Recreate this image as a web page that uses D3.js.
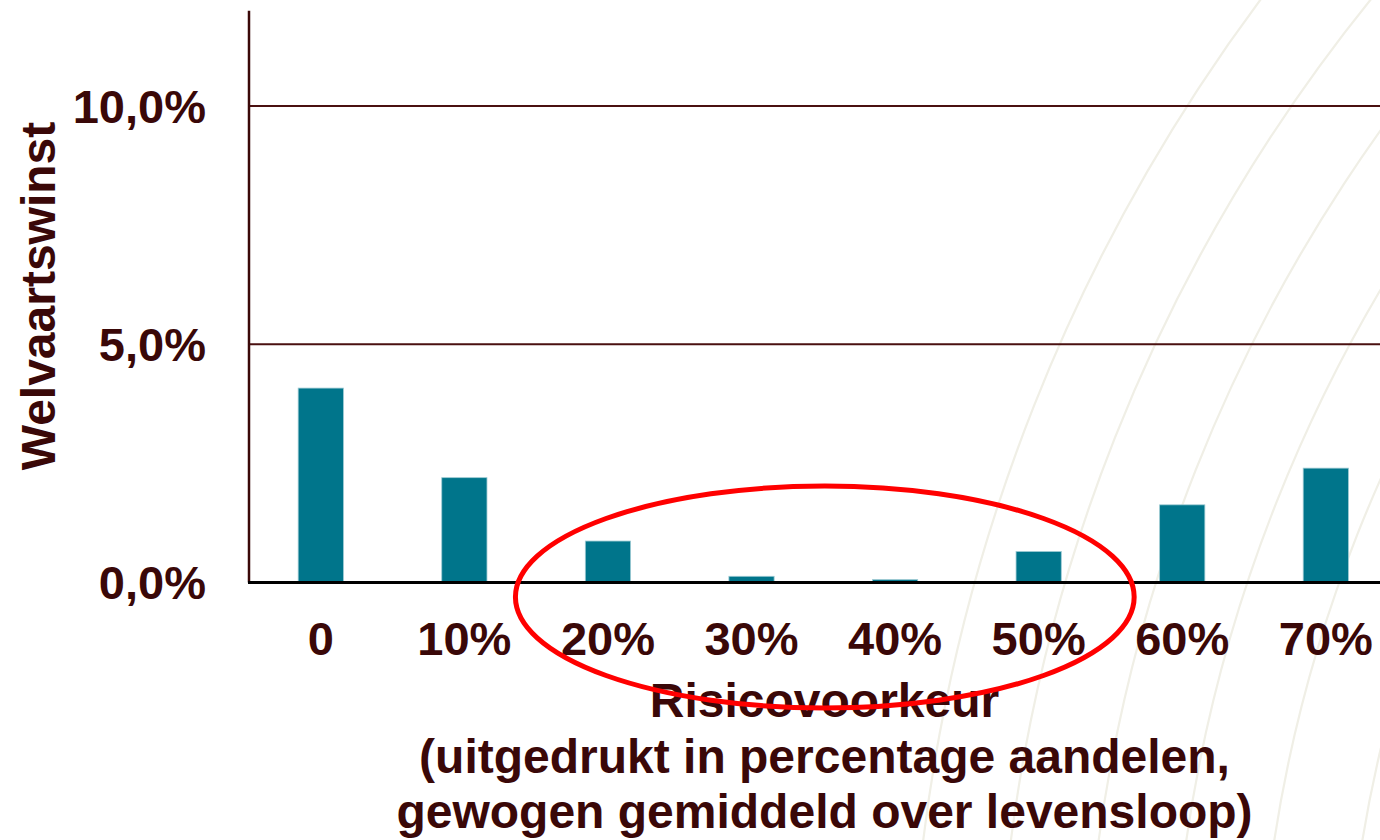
<!DOCTYPE html>
<html>
<head>
<meta charset="utf-8">
<script src="https://cdn.jsdelivr.net/npm/d3@7"></script>
<style>
  html, body { margin: 0; padding: 0; background: #fff; }
  text { font-family: "Liberation Sans", Arial, sans-serif; font-weight: bold; fill: #3a0808; }
</style>
</head>
<body>
<div id="chart"></div>
<script>
// risk preference categories and welfare gain (%)
const categories = ["0", "10%", "20%", "30%", "40%", "50%", "60%", "70%"];
const welfareGain = [4.08, 2.20, 0.87, 0.13, 0.06, 0.65, 1.63, 2.40];
const yTicks = [0, 5, 10];
const yTitle = "Welvaartswinst";
const xTitle = ["Risicovoorkeur", "(uitgedrukt in percentage aandelen,", "gewogen gemiddeld over levensloop)"];
// the circled categories
const highlighted = ["20%", "50%"];

let w = 1380,
    h = 840;

let svg = d3.select("#chart")
            .append("svg")
            .attr("width", w)
            .attr("height", h);

// faint background arcs of the slide template
let arcs = svg.append("g");
[1767, 1680, 1593, 1506, 1419, 1332].forEach(r => {
  arcs.append("circle")
      .attr("cx", 2677)
      .attr("cy", 1056)
      .attr("r", r)
      .attr("fill", "none")
      .attr("stroke", "#f0efe6")
      .attr("stroke-width", 2.2);
});

let x = d3.scaleBand()
          .domain(categories)
          .range([249, 1397.6])
          .paddingInner(0.685)
          .paddingOuter(0.3425);

let y = d3.scaleLinear()
          .domain([0, 12])
          .range([582.5, 10.7]);

// gridlines
svg.selectAll(".grid")
   .data(yTicks.filter(d => d > 0))
   .enter()
   .append("line")
   .attr("class", "grid")
   .attr("x1", 249)
   .attr("x2", w)
   .attr("y1", d => y(d))
   .attr("y2", d => y(d))
   .attr("stroke", "#4a1010")
   .attr("stroke-width", 2);

// y tick labels
svg.selectAll(".ytick")
   .data(yTicks)
   .enter()
   .append("text")
   .attr("class", "ytick")
   .attr("x", 206)
   .attr("y", d => y(d))
   .attr("dy", "0.36em")
   .attr("text-anchor", "end")
   .style("font-size", "47px")
   .text(d => d.toFixed(1).replace(".", ",") + "%");

// bars
svg.selectAll(".bar")
   .data(welfareGain)
   .enter()
   .append("rect")
   .attr("class", "bar")
   .attr("x", (d, i) => x(categories[i]))
   .attr("width", x.bandwidth())
   .attr("y", d => y(d))
   .attr("height", d => y(0) - y(d))
   .attr("fill", "#00758b")
   .attr("stroke", "#9ccad3")
   .attr("stroke-width", 0.8);

// axes lines
svg.append("line")
   .attr("x1", 249).attr("x2", 249)
   .attr("y1", y(12)).attr("y2", y(0))
   .attr("stroke", "#3a0808")
   .attr("stroke-width", 2.5);

svg.append("line")
   .attr("x1", 248).attr("x2", w)
   .attr("y1", y(0)).attr("y2", y(0))
   .attr("stroke", "#000")
   .attr("stroke-width", 3);

// category labels
svg.selectAll(".xtick")
   .data(categories)
   .enter()
   .append("text")
   .attr("class", "xtick")
   .attr("x", d => x(d) + x.bandwidth() / 2)
   .attr("y", 655)
   .attr("text-anchor", "middle")
   .style("font-size", "47px")
   .text(d => d);

// axis titles
svg.append("text")
   .attr("transform", "translate(55, 296) rotate(-90)")
   .attr("text-anchor", "middle")
   .style("font-size", "48px")
   .text(yTitle);

svg.selectAll(".xtitle")
   .data(xTitle)
   .enter()
   .append("text")
   .attr("class", "xtitle")
   .attr("x", 824.5)
   .attr("y", (d, i) => 717 + i * 55.5)
   .attr("text-anchor", "middle")
   .style("font-size", "48px")
   .text(d => d);

// red ellipse around the low-gain categories
let left = x(highlighted[0]) + x.bandwidth() / 2,
    right = x(highlighted[1]) + x.bandwidth() / 2;

svg.append("ellipse")
   .attr("cx", (left + right) / 2 + 1.5)
   .attr("cy", y(0) + 14.5)
   .attr("rx", (right - left) / 2 + 94)
   .attr("ry", 111)
   .attr("fill", "none")
   .attr("stroke", "#ff0000")
   .attr("stroke-width", 5);
</script>
</body>
</html>
